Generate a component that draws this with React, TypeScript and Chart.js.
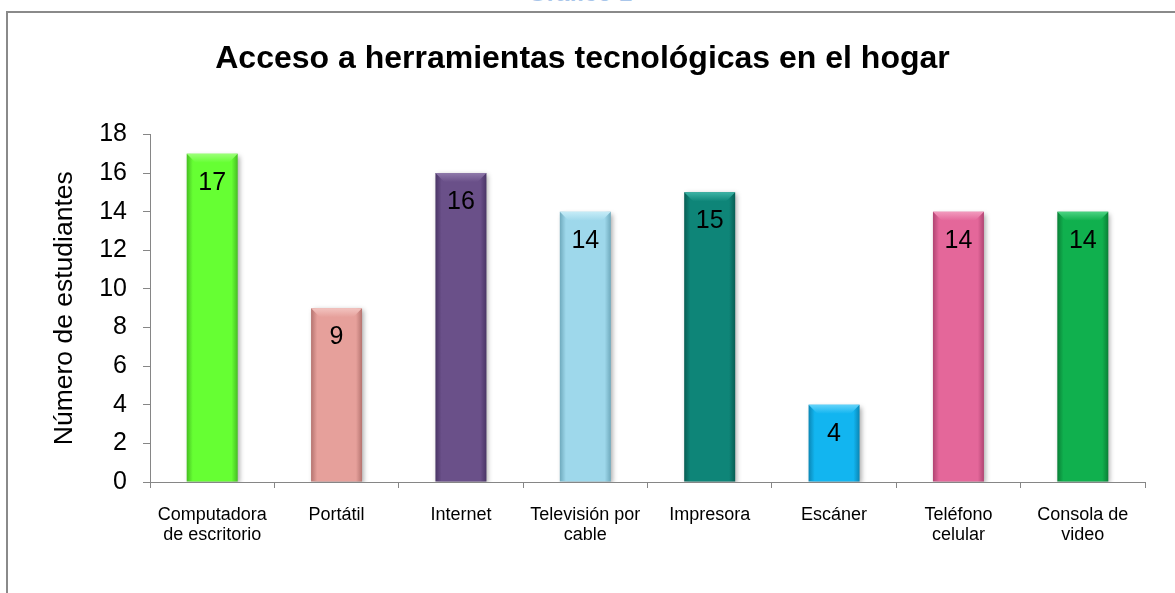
import React, { useEffect, useRef } from "react";
import { Chart, registerables } from "chart.js";

Chart.register(...registerables);

const categories: string[][] = [
  ["Computadora", "de escritorio"],
  ["Portátil"],
  ["Internet"],
  ["Televisión por", "cable"],
  ["Impresora"],
  ["Escáner"],
  ["Teléfono", "celular"],
  ["Consola de", "video"],
];
const values: number[] = [17, 9, 16, 14, 15, 4, 14, 14];
const baseColors: string[] = ["#66FF33", "#E6A09B", "#6A5089", "#9ED8EB", "#0E8578", "#12B5F0", "#E4679A", "#10B04E"];
const edgeColors: string[] = ["#46BE22", "#B57470", "#4A3566", "#6FAABD", "#075D53", "#0A86B5", "#B04472", "#0A8036"];
const topColors: string[] = ["#9CFF7A", "#F2C4C0", "#8F79AA", "#C6ECF7", "#3DB3A5", "#63D3FA", "#F29BBE", "#4CD383"];
const yTicks = { min: 0, max: 18, step: 2 };
const chartTitle = "Acceso a herramientas tecnológicas en el hogar";
const yTitle = "Número de estudiantes";

const FONT = '"Liberation Sans", Arial, sans-serif';
const BAR_PCT = 0.41;

export default function App() {
  const ref = useRef<HTMLCanvasElement | null>(null);

  useEffect(() => {
    if (!ref.current) return;
    const decor = {
      id: "decor",
      beforeDatasetsDraw(chart: any) {
        const c = chart.ctx;
        c.save();
        c.shadowColor = "rgba(0,0,0,0.35)";
        c.shadowBlur = 5;
        c.shadowOffsetX = 2;
        c.shadowOffsetY = 2;
      },
      afterDatasetsDraw(chart: any) {
        const c = chart.ctx;
        c.restore();
        const meta = chart.getDatasetMeta(0);
        c.save();
        meta.data.forEach((el: any, i: number) => {
          const hw = el.width / 2;
          const bev = 9;
          c.beginPath();
          c.moveTo(el.x - hw, el.y);
          c.lineTo(el.x + hw, el.y);
          c.lineTo(el.x + hw - bev, el.y + bev);
          c.lineTo(el.x - hw + bev, el.y + bev);
          c.closePath();
          const g = c.createLinearGradient(0, el.y, 0, el.y + bev);
          g.addColorStop(0, topColors[i]);
          g.addColorStop(1, baseColors[i]);
          c.fillStyle = g;
          c.fill();
        });
        c.font = `25px ${FONT}`;
        c.fillStyle = "#000";
        c.textAlign = "center";
        c.textBaseline = "middle";
        meta.data.forEach((el: any, i: number) => {
          c.fillText(String(values[i]), el.x, el.y + 29);
        });
        c.restore();
      },
    };

    const chart = new Chart(ref.current, {
      type: "bar",
      data: {
        labels: categories,
        datasets: [
          {
            data: values,
            barPercentage: BAR_PCT,
            categoryPercentage: 1,
            backgroundColor: (ctx: any) => {
              const ch = ctx.chart;
              const area = ch.chartArea;
              const i = ctx.dataIndex;
              if (!area || i === undefined) return baseColors[i || 0];
              const cx = ch.scales.x.getPixelForValue(i);
              const hw = ((area.right - area.left) / categories.length) * BAR_PCT / 2;
              const g = ch.ctx.createLinearGradient(cx - hw, 0, cx + hw, 0);
              g.addColorStop(0, edgeColors[i]);
              g.addColorStop(0.12, baseColors[i]);
              g.addColorStop(0.88, baseColors[i]);
              g.addColorStop(1, edgeColors[i]);
              return g;
            },
            borderWidth: 0,
          },
        ],
      },
      options: {
        animation: false,
        responsive: false,
        layout: { padding: { left: 20, right: 30, top: 0, bottom: 0 } },
        plugins: {
          legend: { display: false },
          tooltip: { enabled: false },
          title: {
            display: true,
            text: chartTitle,
            color: "#000",
            font: { family: FONT, size: 32, weight: "bold", lineHeight: 1.2 },
            padding: { top: 40, bottom: 56 },
          },
        },
        scales: {
          x: {
            grid: { display: true, drawOnChartArea: false, drawTicks: true, tickLength: 6, color: "#868686", offset: true },
            border: { color: "#868686", width: 1 },
            ticks: { color: "#000", font: { family: FONT, size: 18, lineHeight: 1.12 }, padding: 17, maxRotation: 0, autoSkip: false },
            afterFit: (s: any) => {
              s.height = 111;
            },
          },
          y: {
            min: yTicks.min,
            max: yTicks.max,
            grid: { display: true, drawOnChartArea: false, drawTicks: true, tickLength: 7, color: "#868686" },
            border: { color: "#868686", width: 1 },
            ticks: { stepSize: yTicks.step, color: "#000", font: { family: FONT, size: 25 }, padding: 16 },
            title: {
              display: true,
              text: yTitle,
              color: "#000",
              font: { family: FONT, size: 26.5, lineHeight: 1.0 },
              padding: { top: 31, bottom: 0 },
            },
            afterFit: (s: any) => {
              s.width = 130;
            },
          },
        },
      },
      plugins: [decor],
    } as any);
    return () => chart.destroy();
  }, []);

  return (
    <div style={{ position: "fixed", left: 0, top: 0, width: 1175, height: 593, overflow: "hidden", background: "#fff" }}>
      <div
        style={{
          position: "absolute",
          left: 528,
          top: -19,
          font: `bold 24px ${FONT}`,
          lineHeight: "24px",
          color: "#A9C6EA",
          whiteSpace: "nowrap",
        }}
      >
        Gráfico 1
      </div>
      <div
        style={{
          position: "absolute",
          left: 6,
          top: 11,
          width: 1300,
          height: 700,
          border: "2px solid #8A8A8A",
          boxSizing: "border-box",
        }}
      />
      <canvas ref={ref} width={1175} height={593} style={{ position: "absolute", left: 0, top: 0, width: 1175, height: 593 }} />
    </div>
  );
}
